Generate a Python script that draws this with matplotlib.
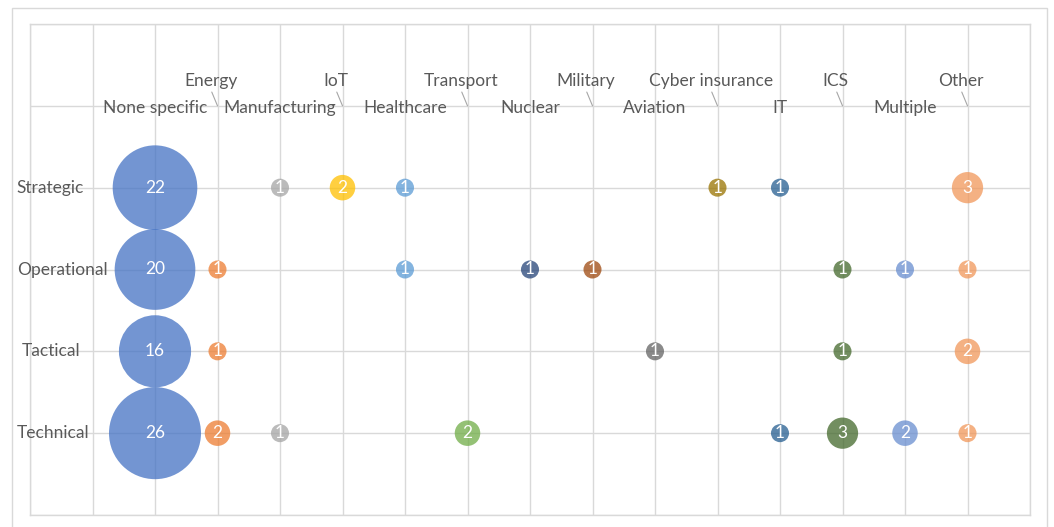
import matplotlib
matplotlib.use('Agg')
import matplotlib.pyplot as plt
from matplotlib.patches import Rectangle

plt.rcParams['font.family'] = ['Lato', 'DejaVu Sans']

# ---------------- data ----------------
levels = ['Strategic', 'Operational', 'Tactical', 'Technical']
sectors = ['None specific', 'Energy', 'Manufacturing', 'IoT', 'Healthcare',
           'Transport', 'Nuclear', 'Military', 'Aviation', 'Cyber insurance',
           'IT', 'ICS', 'Multiple', 'Other']
# counts per sector in order Strategic, Operational, Tactical, Technical (0 = no bubble)
none_specific   = [22, 20, 16, 26]
energy          = [0, 1, 1, 2]
manufacturing   = [1, 0, 0, 1]
iot             = [2, 0, 0, 0]
healthcare      = [1, 1, 0, 0]
transport       = [0, 0, 0, 2]
nuclear         = [0, 1, 0, 0]
military        = [0, 1, 0, 0]
aviation        = [0, 0, 1, 0]
cyber_insurance = [1, 0, 0, 0]
it              = [1, 0, 0, 1]
ics             = [0, 1, 1, 3]
multiple        = [0, 1, 0, 2]
other           = [3, 1, 2, 1]
series = [none_specific, energy, manufacturing, iot, healthcare, transport,
          nuclear, military, aviation, cyber_insurance, it, ics, multiple, other]
colors = ['#4472C4', '#ED7D31', '#A5A5A5', '#FFC000', '#5B9BD5', '#70AD47',
          '#264478', '#9E480E', '#636363', '#997300', '#255E91', '#43682B',
          '#698ED0', '#F1975A']

# ---------------- layout ----------------
W, H, DPI = 1054, 527, 100
fig = plt.figure(figsize=(W / DPI, H / DPI), dpi=DPI)
fig.patch.set_facecolor('white')
fig.patches.append(Rectangle((12 / W, -0.05), (1047 - 12) / W, 1 - 8 / H + 0.05,
                             transform=fig.transFigure, fill=False,
                             edgecolor='#D9D9D9', lw=1.0))
ax = fig.add_axes([30 / W, 1 - 515 / H, (1030 - 30) / W, (515 - 24) / H])
ax.set_xlim(0, 16)
ax.set_ylim(0, 6)
ax.set_xticks(range(17))
ax.set_yticks(range(7))
ax.tick_params(length=0, labelbottom=False, labelleft=False)
ax.grid(True, color='#D9D9D9', lw=1.0, zorder=0)
for sp in ax.spines.values():
    sp.set_color('#D9D9D9')
    sp.set_linewidth(1.0)
ax.set_axisbelow(True)

txt_gray = '#595959'
fs = 12.5
# pixel diameter of a bubble of value 26 is ~92 px; area proportional to value
pt2_per_unit = (92 * 72 / DPI) ** 2 / 26

level_y = [4, 3, 2, 1]
for i, (vals, col) in enumerate(zip(series, colors)):
    xs = i + 2
    for v, y in zip(vals, level_y):
        if v <= 0:
            continue
        ax.scatter([xs], [y], s=v * pt2_per_unit, color=col, alpha=0.75,
                   edgecolors='none', zorder=3)
        ax.text(xs, y, str(v), color='white', ha='center', va='center',
                fontsize=fs, zorder=4)

# level labels at the left
level_label_x = [-0.21, -0.21, -0.13, -0.21]
for name, y, lx in zip(levels, level_y, level_label_x):
    ax.text(lx, y, name, ha='left', va='center', fontsize=fs, color=txt_gray,
            zorder=5)

# sector labels along y = 5, alternating rows with leader lines
for i, name in enumerate(sectors):
    xs = i + 2
    if i % 2 == 0:
        ax.text(xs, 4.97, name, ha='center', va='center', fontsize=fs,
                color=txt_gray, zorder=5)
    else:
        ax.annotate(name, xy=(xs, 5.0), xytext=(xs - 0.11, 5.30),
                    ha='center', va='center', fontsize=fs, color=txt_gray,
                    arrowprops=dict(arrowstyle='-', color='#A6A6A6', lw=0.8,
                                    shrinkA=0, shrinkB=0, relpos=(0.5, 0)),
                    zorder=5)

fig.savefig('out.png', dpi=DPI)
